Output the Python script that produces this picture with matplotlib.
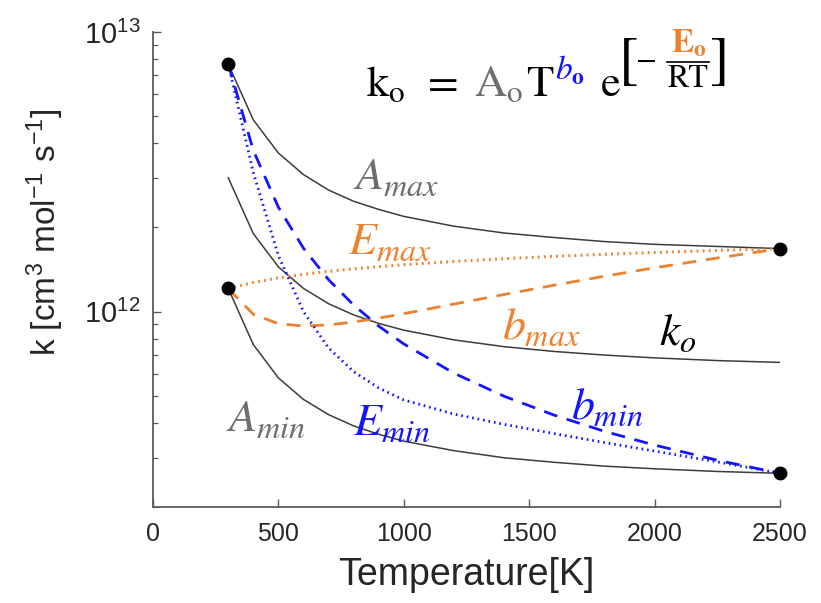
"""Modified Arrhenius rate: k_o and its A / b / E bounds vs temperature."""

import matplotlib
matplotlib.use("Agg")
import matplotlib.pyplot as plt
from matplotlib.lines import Line2D

plt.rcParams["font.family"] = ["Liberation Sans", "DejaVu Sans"]
plt.rcParams["mathtext.default"] = "regular"

# ── data ──
T = [300, 400, 500, 600, 700, 800, 900, 1000, 1200, 1400, 1600, 1800, 2000, 2250, 2500]

k_o = [3.01e12, 1.90e12, 1.445e12, 1.21e12, 1.067e12, 9.73e11, 9.07e11, 8.58e11,
       7.92e11, 7.49e11, 7.20e11, 6.99e11, 6.83e11, 6.68e11, 6.58e11]
a_max = [7.68e12, 4.85e12, 3.69e12, 3.09e12, 2.72e12, 2.48e12, 2.32e12, 2.19e12,
         2.02e12, 1.91e12, 1.84e12, 1.78e12, 1.74e12, 1.71e12, 1.68e12]
a_min = [1.21e12, 7.62e11, 5.79e11, 4.85e11, 4.28e11, 3.90e11, 3.64e11, 3.44e11,
         3.18e11, 3.00e11, 2.89e11, 2.80e11, 2.74e11, 2.68e11, 2.64e11]
e_max = [1.209e12, 1.271e12, 1.320e12, 1.359e12, 1.393e12, 1.422e12, 1.448e12, 1.471e12,
         1.511e12, 1.546e12, 1.576e12, 1.603e12, 1.627e12, 1.655e12, 1.680e12]
e_min = [7.69e12, 3.14e12, 1.585e12, 1.0e12, 7.41e11, 6.10e11, 5.33e11, 4.83e11,
         4.30e11, 3.95e11, 3.66e11, 3.40e11, 3.17e11, 2.90e11, 2.64e11]
b_max = [1.207e12, 9.78e11, 9.05e11, 8.88e11, 8.96e11, 9.18e11, 9.48e11, 9.83e11,
         1.064e12, 1.151e12, 1.243e12, 1.338e12, 1.434e12, 1.555e12, 1.678e12]
b_min = [7.69e12, 3.77e12, 2.36e12, 1.685e12, 1.300e12, 1.055e12, 8.87e11, 7.66e11,
         6.02e11, 4.98e11, 4.26e11, 3.73e11, 3.33e11, 2.94e11, 2.64e11]

x_ticks = [0, 500, 1000, 1500, 2000, 2500]
y_ticks = [1e12, 1e13]
y_ticklabels = ["$10^{12}$", "$10^{13}$"]

C_GRAY = "#3c3c3c"
C_LABEL_GRAY = "#6e6e6e"
C_BLUE = "#1414ff"
C_ORANGE = "#ec8230"
C_AX = "#262626"


def px(x, y):
    # pixel position in the 821x603 picture (origin top-left) -> figure fraction
    return x / 821, 1 - y / 603


fig = plt.figure(figsize=(8.21, 6.03), dpi=100, facecolor="white")
ax = fig.add_axes([153 / 821, 1 - 507 / 603, 627 / 821, 475 / 603])

ax.plot(T, a_max, color=C_GRAY, lw=1.1)
ax.plot(T, k_o, color=C_GRAY, lw=1.1)
ax.plot(T, a_min, color=C_GRAY, lw=1.1)
ax.plot(T, e_max, color=C_ORANGE, lw=2.2, ls=(0, (0.6, 1.4)))
ax.plot(T, b_max, color=C_ORANGE, lw=2.0, ls=(0, (5, 3.5)))
ax.plot(T, e_min, color=C_BLUE, lw=2.0, ls=(0, (0.6, 1.4)))
ax.plot(T, b_min, color=C_BLUE, lw=2.0, ls=(0, (5, 3.5)))

# end points of the envelope
ax.plot([T[0], T[0], T[-1], T[-1]], [a_max[0], a_min[0], a_max[-1], a_min[-1]],
        "o", color="black", ms=9, clip_on=False, zorder=5)

ax.set_yscale("log")
ax.set_xlim(0, 2500)
ax.set_ylim(2e11, 1e13)
ax.set_xticks(x_ticks)
ax.set_xticklabels([str(v) for v in x_ticks])
ax.set_yticks(y_ticks)
ax.set_yticklabels(y_ticklabels)

for side in ["top", "right"]:
    ax.spines[side].set_visible(False)
for side in ["left", "bottom"]:
    ax.spines[side].set_color("#5a5a5a")
    ax.spines[side].set_linewidth(1.3)

ax.tick_params(which="both", direction="in", color="#5a5a5a", labelcolor=C_AX)
ax.tick_params(which="major", length=6, width=1.0)
ax.tick_params(which="minor", length=3.5, width=0.9)
ax.tick_params(axis="x", pad=11, labelsize=18)
ax.tick_params(axis="y", pad=9, labelsize=21)

ax.set_xlabel("Temperature[K]", fontsize=27, color=C_AX, va="top")
ax.xaxis.set_label_coords(0.5, -0.105)
ax.set_ylabel("k [cm$^3$ mol$^{-1}$ s$^{-1}$]", fontsize=24, color=C_AX, va="center")
ax.yaxis.set_label_coords(-0.172, 0.579)

# ── curve labels ──
lbl = dict(fontsize=33, math_fontfamily="stix", ha="center", va="center")
for s, x, y, c in [
    (r"$\mathit{A}_{\mathit{max}}$", 396, 176, C_LABEL_GRAY),
    (r"$\mathit{E}_{\mathit{max}}$", 390, 242, C_ORANGE),
    (r"$\mathit{b}_{\mathit{max}}$", 541, 326, C_ORANGE),
    (r"$\mathit{k}_{\mathit{o}}$", 678, 333, "black"),
    (r"$\mathit{A}_{\mathit{min}}$", 266, 418, C_LABEL_GRAY),
    (r"$\mathit{E}_{\mathit{min}}$", 392, 423, C_BLUE),
    (r"$\mathit{b}_{\mathit{min}}$", 607, 406, C_BLUE),
]:
    fig.text(*px(x, y), s, color=c, **lbl)

# ── formula k_o = A_o T^b_o e^[-E_o/RT] ──
big = dict(fontsize=32, math_fontfamily="stix", ha="left", va="baseline")
fig.text(*px(366, 96), r"$\mathrm{k_o}$", color="black", **big)
fig.text(*px(428, 96), "=", color="black", family="STIXGeneral", fontsize=32,
         ha="left", va="baseline")
fig.text(*px(474, 96), r"$\mathrm{A_o}$", color=C_LABEL_GRAY, **big)
fig.text(*px(526, 96), r"$\mathrm{T}$", color="black", **big)
fig.text(*px(555, 80), r"$\mathit{b}_{\mathbf{o}}$", color=C_BLUE, fontsize=24,
         math_fontfamily="stix", ha="left", va="baseline")
fig.text(*px(600, 96), r"$\mathrm{e}$", color="black", **big)

small = dict(family="STIXGeneral", ha="center", va="center")
fig.text(*px(629, 64), "[", fontsize=42, color="black", **small)
fig.text(*px(720, 64), "]", fontsize=42, color="black", **small)
fig.text(*px(646, 62), "\u2212", fontsize=22, color="black", **small)
fig.text(*px(689, 43), r"$\mathbf{E_o}$", fontsize=24, color=C_ORANGE,
         math_fontfamily="stix", ha="center", va="center")
fig.text(*px(688, 79), "RT", fontsize=23, color="black", **small)
fig.add_artist(Line2D([667 / 821, 709 / 821], [1 - 62 / 603, 1 - 62 / 603],
                      color="black", lw=1.2, transform=fig.transFigure))

fig.savefig("out.png", dpi=100)
